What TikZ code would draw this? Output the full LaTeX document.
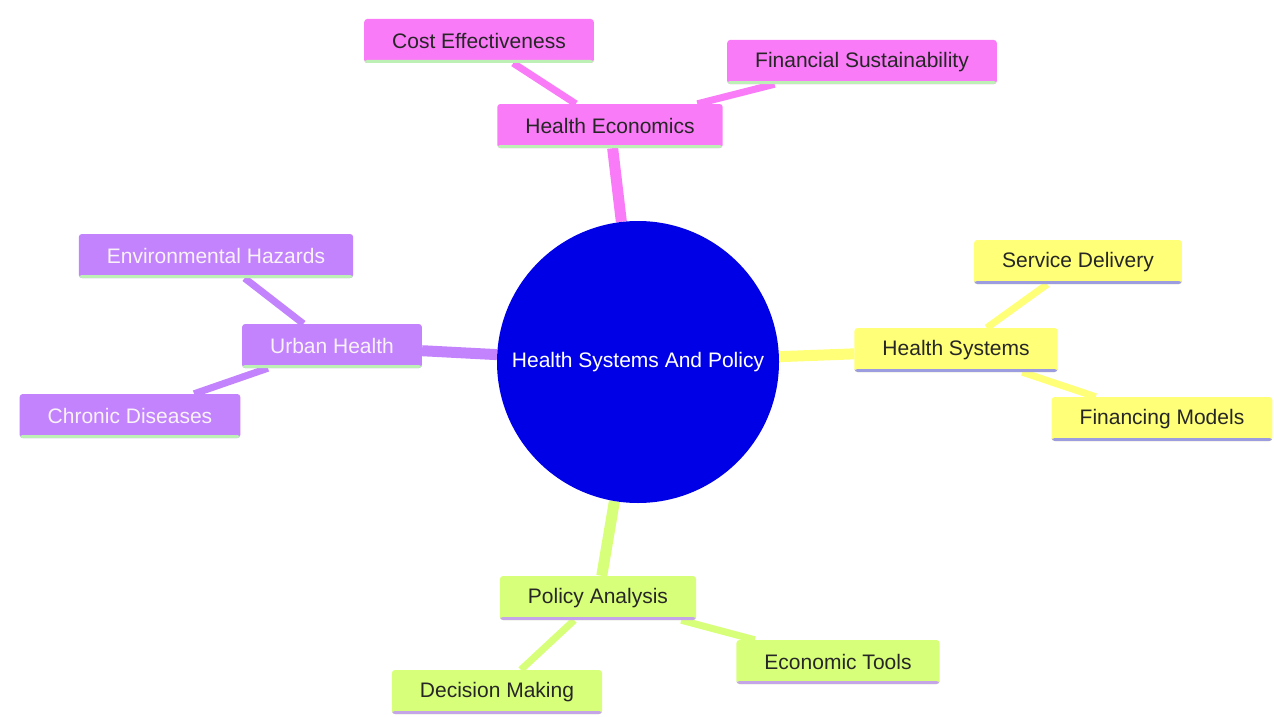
\documentclass[tikz,border=0pt]{standalone}
\usepackage{fontspec}
\setmainfont{Liberation Sans}
\usetikzlibrary{backgrounds}
\definecolor{rootblue}{HTML}{0000E6}
\definecolor{econpink}{HTML}{F97BF7}
\definecolor{syspellow}{HTML}{FFFF78}
\definecolor{urbanpurple}{HTML}{C283FD}
\definecolor{polgreen}{HTML}{D8FF7A}
\definecolor{greenline}{HTML}{BDF0B4}
\definecolor{blueline}{HTML}{9C9CE0}
\definecolor{purpleline}{HTML}{C4A6E8}
\tikzset{
	topic/.style={rounded corners=3pt, minimum height=44pt, inner xsep=28pt,
		font=\fontsize{21}{25}\selectfont, text=black!85},
	underline/.style={path picture={\fill[#1] ([yshift=3pt]path picture bounding box.south west)
		rectangle (path picture bounding box.south east);}},
	econ/.style={topic, fill=econpink, underline=greenline},
	sys/.style={topic, fill=syspellow, underline=blueline},
	urban/.style={topic, fill=urbanpurple, underline=greenline, text=white!95!violet},
	pol/.style={topic, fill=polgreen, underline=purpleline},
	trunk/.style={line width=11pt},
	twig/.style={line width=7pt}
}
\begin{document}
\begin{tikzpicture}[x=1pt,y=-1pt]
	\useasboundingbox (0,0) rectangle (1274,717);
	\node[circle, fill=rootblue, minimum size=282pt, text=white,
		font=\fontsize{21}{25}\selectfont] (root) at (638,362) {Health Systems And Policy};
	% main topics
	\node[econ] (econ) at (610,126) {Health Economics};
	\node[sys] (sys) at (956,350) {Health Systems};
	\node[urban] (urban) at (332,346) {Urban Health};
	\node[pol] (pol) at (598,598) {Policy Analysis};
	% sub topics
	\node[econ] (cost) at (479,41) {Cost Effectiveness};
	\node[econ] (fin) at (862,62) {Financial Sustainability};
	\node[sys] (serv) at (1078,262) {Service Delivery};
	\node[sys] (fmod) at (1162,419) {Financing Models};
	\node[urban] (env) at (216,256) {Environmental Hazards};
	\node[urban] (chron) at (130,416) {Chronic Diseases};
	\node[pol] (dec) at (497,692) {Decision Making};
	\node[pol] (tools) at (838,662) {Economic Tools};
	\begin{pgfonlayer}{background}
		\path[trunk]
		(root) edge[econpink] (econ) edge[syspellow] (sys) edge[urbanpurple] (urban) edge[polgreen] (pol);
		\path[twig]
		(econ) edge[econpink] (cost) edge[econpink] (fin)
		(sys) edge[syspellow] (serv) edge[syspellow] (fmod)
		(urban) edge[urbanpurple] (env) edge[urbanpurple] (chron)
		(pol) edge[polgreen] (dec) edge[polgreen] (tools);
	\end{pgfonlayer}
\end{tikzpicture}
\end{document}
